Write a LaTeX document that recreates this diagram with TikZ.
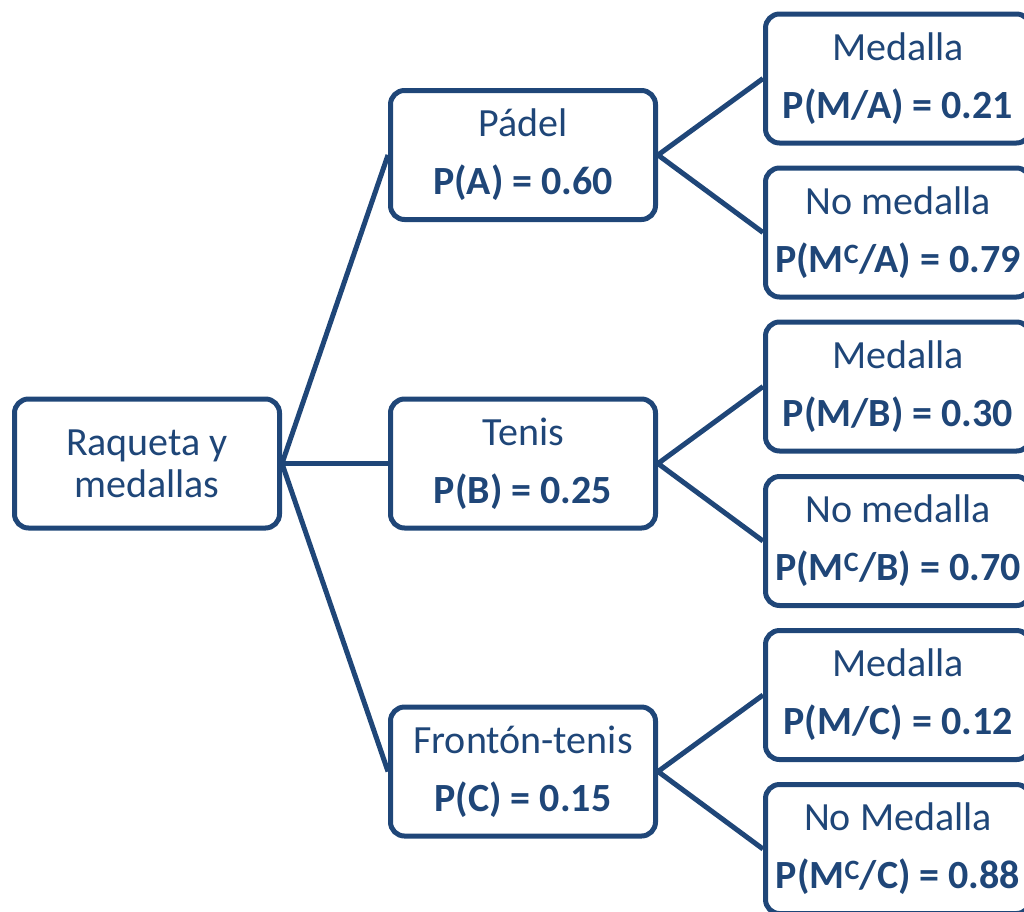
\documentclass[tikz,border=0pt]{standalone}
\usepackage{fontspec}
\setmainfont{Carlito}
\usetikzlibrary{positioning}
\definecolor{azul}{RGB}{31,70,120}
\tikzset{caja/.style={draw=azul,line width=5pt,rounded corners=14pt,minimum width=265pt,minimum height=129pt,align=center,text=azul,font=\fontsize{40}{58}\selectfont},
linea/.style={draw=azul,line width=5pt}}

\begin{document}
\begin{tikzpicture}[x=1pt,y=-1pt]
\useasboundingbox (0,0) rectangle (1024,911);
\clip (0,0) rectangle (1024,911);
\node[caja,font=\fontsize{40}{42}\selectfont] (raiz) at (147,463.5) {Raqueta y\\medallas};
\node[caja] (padel) at (523,155) {Pádel\\\textbf{P(A) = 0.60}};
\node[caja] (tenis) at (523,463.5) {Tenis\\\textbf{P(B) = 0.25}};
\node[caja] (fronton) at (523,771.5) {Frontón-tenis\\\textbf{P(C) = 0.15}};
\node[caja] (ma) at (898,78.5) {Medalla\\\textbf{P(M/A) = 0.21}};
\node[caja] (na) at (898,232.5) {No medalla\\\textbf{P(M\textsuperscript{C}/A) = 0.79}};
\node[caja] (mb) at (898,386.5) {Medalla\\\textbf{P(M/B) = 0.30}};
\node[caja] (nb) at (898,541) {No medalla\\\textbf{P(M\textsuperscript{C}/B) = 0.70}};
\node[caja] (mc) at (898,695) {Medalla\\\textbf{P(M/C) = 0.12}};
\node[caja] (nc) at (898,849) {No Medalla\\\textbf{P(M\textsuperscript{C}/C) = 0.88}};
\foreach \x in {padel,tenis,fronton}
	\draw[linea] (raiz.east) -- (\x.west);
\foreach \x/\y/\z in {padel/ma/na,tenis/mb/nb,fronton/mc/nc}
	\draw[linea] (\y.west) -- (\x.east) -- (\z.west);
\end{tikzpicture}
\end{document}
